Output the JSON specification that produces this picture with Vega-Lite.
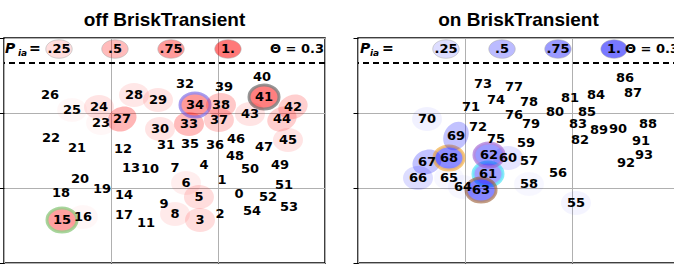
{
"$schema": "https://vega.github.io/schema/vega-lite/v6.json",
"padding": {"left": -3, "top": 9, "right": 0, "bottom": 0},
"config": {
  "view": {"stroke": "black", "strokeWidth": 1.5},
  "axis": {"grid": true, "gridColor": "#b0b0b0", "gridWidth": 1, "gridOpacity": 1, "labels": false, "domain": false, "ticks": true, "tickColor": "black", "tickSize": 5, "title": null, "minExtent": 0, "labelPadding": 0},
  "title": {"font": "Liberation Sans", "fontSize": 19, "fontWeight": "bold", "offset": 8, "color": "black"},
  "concat": {"spacing": 24}
},
"datasets": {
  "pts": [
    {"panel":"off","id":"0","x":2.196,"y":0.92},
    {"panel":"off","id":"1","x":2.037,"y":1.107},
    {"panel":"off","id":"2","x":2.019,"y":0.653},
    {"panel":"off","id":"3","x":1.832,"y":0.573,"p":0.25,"hl":"none","orient":0},
    {"panel":"off","id":"4","x":1.869,"y":1.307},
    {"panel":"off","id":"5","x":1.822,"y":0.88,"p":0.25,"hl":"none","orient":0},
    {"panel":"off","id":"6","x":1.701,"y":1.067,"p":0.12,"hl":"none","orient":0},
    {"panel":"off","id":"7","x":1.598,"y":1.267},
    {"panel":"off","id":"8","x":1.598,"y":0.653,"p":0.15,"hl":"none","orient":0},
    {"panel":"off","id":"9","x":1.495,"y":0.787},
    {"panel":"off","id":"10","x":1.364,"y":1.253},
    {"panel":"off","id":"11","x":1.327,"y":0.533},
    {"panel":"off","id":"12","x":1.112,"y":1.52},
    {"panel":"off","id":"13","x":1.187,"y":1.267},
    {"panel":"off","id":"14","x":1.121,"y":0.907},
    {"panel":"off","id":"15","x":0.542,"y":0.573,"p":0.7,"hl":"green","orient":0},
    {"panel":"off","id":"16","x":0.738,"y":0.613,"p":0.05,"hl":"none","orient":0},
    {"panel":"off","id":"17","x":1.121,"y":0.64},
    {"panel":"off","id":"18","x":0.533,"y":0.933},
    {"panel":"off","id":"19","x":0.916,"y":0.987},
    {"panel":"off","id":"20","x":0.71,"y":1.12},
    {"panel":"off","id":"21","x":0.682,"y":1.533},
    {"panel":"off","id":"22","x":0.439,"y":1.667},
    {"panel":"off","id":"23","x":0.907,"y":1.867,"p":0.06,"hl":"none","orient":0},
    {"panel":"off","id":"24","x":0.888,"y":2.08,"p":0.2,"hl":"none","orient":0},
    {"panel":"off","id":"25","x":0.636,"y":2.04,"p":0.05,"hl":"none","orient":0},
    {"panel":"off","id":"26","x":0.43,"y":2.24},
    {"panel":"off","id":"27","x":1.103,"y":1.92,"p":0.55,"hl":"none","orient":-25},
    {"panel":"off","id":"28","x":1.215,"y":2.24,"p":0.18,"hl":"none","orient":0},
    {"panel":"off","id":"29","x":1.439,"y":2.173,"p":0.2,"hl":"none","orient":0},
    {"panel":"off","id":"30","x":1.458,"y":1.787,"p":0.2,"hl":"none","orient":0},
    {"panel":"off","id":"31","x":1.514,"y":1.573},
    {"panel":"off","id":"32","x":1.692,"y":2.387},
    {"panel":"off","id":"33","x":1.729,"y":1.853,"p":0.5,"hl":"none","orient":0},
    {"panel":"off","id":"34","x":1.785,"y":2.107,"p":0.75,"hl":"purple","orient":0},
    {"panel":"off","id":"35","x":1.738,"y":1.587},
    {"panel":"off","id":"36","x":1.972,"y":1.573},
    {"panel":"off","id":"37","x":2.009,"y":1.907,"p":0.35,"hl":"none","orient":0},
    {"panel":"off","id":"38","x":2.028,"y":2.107,"p":0.4,"hl":"none","orient":0},
    {"panel":"off","id":"39","x":2.056,"y":2.347},
    {"panel":"off","id":"40","x":2.411,"y":2.48},
    {"panel":"off","id":"41","x":2.43,"y":2.213,"p":0.95,"hl":"gray","orient":0},
    {"panel":"off","id":"42","x":2.701,"y":2.08,"p":0.35,"hl":"none","orient":-20},
    {"panel":"off","id":"43","x":2.299,"y":1.987,"p":0.2,"hl":"none","orient":0},
    {"panel":"off","id":"44","x":2.598,"y":1.92,"p":0.35,"hl":"none","orient":-20},
    {"panel":"off","id":"45","x":2.654,"y":1.64,"p":0.2,"hl":"none","orient":0},
    {"panel":"off","id":"46","x":2.168,"y":1.653},
    {"panel":"off","id":"47","x":2.43,"y":1.547},
    {"panel":"off","id":"48","x":2.159,"y":1.427},
    {"panel":"off","id":"49","x":2.579,"y":1.307},
    {"panel":"off","id":"50","x":2.299,"y":1.253},
    {"panel":"off","id":"51","x":2.617,"y":1.04},
    {"panel":"off","id":"52","x":2.467,"y":0.88},
    {"panel":"off","id":"53","x":2.664,"y":0.747},
    {"panel":"off","id":"54","x":2.318,"y":0.693},
    {"panel":"on","id":"55","x":2.037,"y":0.8,"p":0.08,"hl":"none","orient":0},
    {"panel":"on","id":"56","x":1.869,"y":1.2},
    {"panel":"on","id":"57","x":1.598,"y":1.36},
    {"panel":"on","id":"58","x":1.598,"y":1.053,"p":0.05,"hl":"none","orient":0},
    {"panel":"on","id":"59","x":1.57,"y":1.6},
    {"panel":"on","id":"60","x":1.402,"y":1.4,"p":0.2,"hl":"none","orient":0},
    {"panel":"on","id":"61","x":1.215,"y":1.187,"p":0.7,"hl":"cyan","orient":0},
    {"panel":"on","id":"62","x":1.224,"y":1.44,"p":0.75,"hl":"violet","orient":0},
    {"panel":"on","id":"63","x":1.15,"y":0.973,"p":0.9,"hl":"brown","orient":0},
    {"panel":"on","id":"64","x":0.981,"y":1.013,"p":0.05,"hl":"none","orient":0},
    {"panel":"on","id":"65","x":0.85,"y":1.133,"p":0.05,"hl":"none","orient":0},
    {"panel":"on","id":"66","x":0.561,"y":1.133,"p":0.25,"hl":"none","orient":0},
    {"panel":"on","id":"67","x":0.645,"y":1.347,"p":0.45,"hl":"none","orient":-25},
    {"panel":"on","id":"68","x":0.85,"y":1.4,"p":0.85,"hl":"orange","orient":0},
    {"panel":"on","id":"69","x":0.916,"y":1.693,"p":0.45,"hl":"none","orient":-60},
    {"panel":"on","id":"70","x":0.645,"y":1.92,"p":0.1,"hl":"none","orient":0},
    {"panel":"on","id":"71","x":1.056,"y":2.08},
    {"panel":"on","id":"72","x":1.121,"y":1.813},
    {"panel":"on","id":"73","x":1.168,"y":2.387},
    {"panel":"on","id":"74","x":1.29,"y":2.173},
    {"panel":"on","id":"75","x":1.29,"y":1.653},
    {"panel":"on","id":"76","x":1.458,"y":1.973},
    {"panel":"on","id":"77","x":1.458,"y":2.347},
    {"panel":"on","id":"78","x":1.598,"y":2.147},
    {"panel":"on","id":"79","x":1.617,"y":1.853},
    {"panel":"on","id":"80","x":1.841,"y":2.013},
    {"panel":"on","id":"81","x":1.981,"y":2.2},
    {"panel":"on","id":"82","x":2.075,"y":1.64},
    {"panel":"on","id":"83","x":2.056,"y":1.853},
    {"panel":"on","id":"84","x":2.224,"y":2.24},
    {"panel":"on","id":"85","x":2.14,"y":2.013},
    {"panel":"on","id":"86","x":2.495,"y":2.467},
    {"panel":"on","id":"87","x":2.57,"y":2.267},
    {"panel":"on","id":"88","x":2.71,"y":1.853},
    {"panel":"on","id":"89","x":2.252,"y":1.773},
    {"panel":"on","id":"90","x":2.43,"y":1.787},
    {"panel":"on","id":"91","x":2.645,"y":1.627},
    {"panel":"on","id":"92","x":2.505,"y":1.333},
    {"panel":"on","id":"93","x":2.673,"y":1.44}
  ],
  "leg": [
    {"panel":"off","kind":"ell","t":".25","x":0.514,"y":2.853,"p":0.25},
    {"panel":"off","kind":"ell","t":".5","x":1.037,"y":2.853,"p":0.5},
    {"panel":"off","kind":"ell","t":".75","x":1.561,"y":2.853,"p":0.75},
    {"panel":"off","kind":"ell","t":"1.","x":2.093,"y":2.853,"p":1},
    {"panel":"off","kind":"P","t":"P","x":0.01,"y":2.853},
    {"panel":"off","kind":"ia","t":"ia","x":0.131,"y":2.8},
    {"panel":"off","kind":"eq","t":"=","x":0.234,"y":2.853},
    {"panel":"off","kind":"theta","t":"Θ = 0.3","x":2.99,"y":2.853},
    {"panel":"on","kind":"ell","t":".25","x":0.822,"y":2.853,"p":0.25},
    {"panel":"on","kind":"ell","t":".5","x":1.346,"y":2.853,"p":0.5},
    {"panel":"on","kind":"ell","t":".75","x":1.869,"y":2.853,"p":0.75},
    {"panel":"on","kind":"ell","t":"1.","x":2.393,"y":2.853,"p":1},
    {"panel":"on","kind":"P","t":"P","x":0.019,"y":2.853},
    {"panel":"on","kind":"ia","t":"ia","x":0.112,"y":2.8},
    {"panel":"on","kind":"eq","t":"=","x":0.224,"y":2.853},
    {"panel":"on","kind":"theta","t":"Θ = 0.3","x":3.0,"y":2.853}
  ]
},
"hconcat": [
  {
    "title": "off BriskTransient",
    "width": 321, "height": 225,
    "layer": [
      {"data": {"name": "pts"}, "transform": [{"filter": "datum.panel == 'off' && datum.p > 0"}],
       "mark": {"type": "point", "shape": "M-1,0A1,0.8,0,1,1,1,0A1,0.8,0,1,1,-1,0Z", "filled": true, "size": 900, "fill": "#ff0000", "strokeWidth": 3, "strokeOpacity": 0.85},
       "encoding": {
         "x": {"field": "x", "type": "quantitative", "scale": {"domain": [0, 3], "nice": false}, "axis": {"values": [0, 1, 2, 3]}},
         "y": {"field": "y", "type": "quantitative", "scale": {"domain": [0, 3], "nice": false}, "axis": {"values": [0, 1, 2, 3]}},
         "fillOpacity": {"field": "p", "type": "quantitative", "scale": {"domain": [0, 1], "range": [0, 0.75]}, "legend": null},
         "stroke": {"field": "hl", "type": "nominal", "scale": {"domain": ["none","purple","gray","green","orange","violet","cyan","brown"], "range": ["transparent","#6f5ce6","#505050","#6dbb5a","#f5a524","#9b59d0","#33e0f5","#9a5a30"]}, "legend": null},
         "angle": {"field": "orient", "type": "quantitative", "scale": null}
       }},
      {"data": {"name": "leg"}, "transform": [{"filter": "datum.panel == 'off' && datum.kind == 'ell'"}],
       "mark": {"type": "point", "shape": "M-1,0A1,0.7,0,1,1,1,0A1,0.7,0,1,1,-1,0Z", "filled": true, "size": 700, "fill": "#ff0000", "stroke": "#888888", "strokeWidth": 1, "strokeOpacity": 0.5},
       "encoding": {
         "x": {"field": "x", "type": "quantitative"},
         "y": {"field": "y", "type": "quantitative"},
         "fillOpacity": {"field": "p", "type": "quantitative", "legend": null}
       }},
      {"data": {"values": [{}]},
       "mark": {"type": "rule", "strokeDash": [6, 4], "strokeWidth": 2, "color": "black"},
       "encoding": {"y": {"datum": 2.667}}},
      {"data": {"name": "pts"}, "transform": [{"filter": "datum.panel == 'off'"}],
       "mark": {"type": "text", "font": "DejaVu Sans", "fontWeight": "bold", "fontSize": 13, "color": "black", "align": "center", "baseline": "middle"},
       "encoding": {"x": {"field": "x", "type": "quantitative"}, "y": {"field": "y", "type": "quantitative"}, "text": {"field": "id"}}},
      {"data": {"name": "leg"}, "transform": [{"filter": "datum.panel == 'off' && datum.kind == 'ell'"}],
       "mark": {"type": "text", "font": "DejaVu Sans", "fontWeight": "bold", "fontSize": 13, "color": "black", "align": "center", "baseline": "middle"},
       "encoding": {"x": {"field": "x", "type": "quantitative"}, "y": {"field": "y", "type": "quantitative"}, "text": {"field": "t"}}},
      {"data": {"name": "leg"}, "transform": [{"filter": "datum.panel == 'off' && datum.kind == 'theta'"}],
       "mark": {"type": "text", "font": "DejaVu Sans", "fontWeight": "bold", "fontSize": 13, "color": "black", "align": "right", "baseline": "middle"},
       "encoding": {"x": {"field": "x", "type": "quantitative"}, "y": {"field": "y", "type": "quantitative"}, "text": {"field": "t"}}},
      {"data": {"name": "leg"}, "transform": [{"filter": "datum.panel == 'off' && datum.kind == 'P'"}],
       "mark": {"type": "text", "font": "DejaVu Sans", "fontWeight": "bold", "fontStyle": "italic", "fontSize": 14, "color": "black", "align": "left", "baseline": "middle"},
       "encoding": {"x": {"field": "x", "type": "quantitative"}, "y": {"field": "y", "type": "quantitative"}, "text": {"field": "t"}}},
      {"data": {"name": "leg"}, "transform": [{"filter": "datum.panel == 'off' && datum.kind == 'ia'"}],
       "mark": {"type": "text", "font": "DejaVu Sans", "fontWeight": "bold", "fontStyle": "italic", "fontSize": 9, "color": "black", "align": "left", "baseline": "middle"},
       "encoding": {"x": {"field": "x", "type": "quantitative"}, "y": {"field": "y", "type": "quantitative"}, "text": {"field": "t"}}},
      {"data": {"name": "leg"}, "transform": [{"filter": "datum.panel == 'off' && datum.kind == 'eq'"}],
       "mark": {"type": "text", "font": "DejaVu Sans", "fontWeight": "bold", "fontSize": 14, "color": "black", "align": "left", "baseline": "middle"},
       "encoding": {"x": {"field": "x", "type": "quantitative"}, "y": {"field": "y", "type": "quantitative"}, "text": {"field": "t"}}}
    ]
  },
  {
    "title": "on BriskTransient",
    "width": 321, "height": 225,
    "layer": [
      {"data": {"name": "pts"}, "transform": [{"filter": "datum.panel == 'on' && datum.p > 0"}],
       "mark": {"type": "point", "shape": "M-1,0A1,0.8,0,1,1,1,0A1,0.8,0,1,1,-1,0Z", "filled": true, "size": 900, "fill": "#0000ff", "strokeWidth": 3, "strokeOpacity": 0.85},
       "encoding": {
         "x": {"field": "x", "type": "quantitative", "scale": {"domain": [0, 3], "nice": false}, "axis": {"values": [0, 1, 2, 3]}},
         "y": {"field": "y", "type": "quantitative", "scale": {"domain": [0, 3], "nice": false}, "axis": {"values": [0, 1, 2, 3]}},
         "fillOpacity": {"field": "p", "type": "quantitative", "scale": {"domain": [0, 1], "range": [0, 0.75]}, "legend": null},
         "stroke": {"field": "hl", "type": "nominal", "scale": {"domain": ["none","purple","gray","green","orange","violet","cyan","brown"], "range": ["transparent","#6f5ce6","#505050","#6dbb5a","#f5a524","#9b59d0","#33e0f5","#9a5a30"]}, "legend": null},
         "angle": {"field": "orient", "type": "quantitative", "scale": null}
       }},
      {"data": {"name": "leg"}, "transform": [{"filter": "datum.panel == 'on' && datum.kind == 'ell'"}],
       "mark": {"type": "point", "shape": "M-1,0A1,0.7,0,1,1,1,0A1,0.7,0,1,1,-1,0Z", "filled": true, "size": 700, "fill": "#0000ff", "stroke": "#888888", "strokeWidth": 1, "strokeOpacity": 0.5},
       "encoding": {
         "x": {"field": "x", "type": "quantitative"},
         "y": {"field": "y", "type": "quantitative"},
         "fillOpacity": {"field": "p", "type": "quantitative", "legend": null}
       }},
      {"data": {"values": [{}]},
       "mark": {"type": "rule", "strokeDash": [6, 4], "strokeWidth": 2, "color": "black"},
       "encoding": {"y": {"datum": 2.667}}},
      {"data": {"name": "pts"}, "transform": [{"filter": "datum.panel == 'on'"}],
       "mark": {"type": "text", "font": "DejaVu Sans", "fontWeight": "bold", "fontSize": 13, "color": "black", "align": "center", "baseline": "middle"},
       "encoding": {"x": {"field": "x", "type": "quantitative"}, "y": {"field": "y", "type": "quantitative"}, "text": {"field": "id"}}},
      {"data": {"name": "leg"}, "transform": [{"filter": "datum.panel == 'on' && datum.kind == 'ell'"}],
       "mark": {"type": "text", "font": "DejaVu Sans", "fontWeight": "bold", "fontSize": 13, "color": "black", "align": "center", "baseline": "middle"},
       "encoding": {"x": {"field": "x", "type": "quantitative"}, "y": {"field": "y", "type": "quantitative"}, "text": {"field": "t"}}},
      {"data": {"name": "leg"}, "transform": [{"filter": "datum.panel == 'on' && datum.kind == 'theta'"}],
       "mark": {"type": "text", "font": "DejaVu Sans", "fontWeight": "bold", "fontSize": 13, "color": "black", "align": "right", "baseline": "middle"},
       "encoding": {"x": {"field": "x", "type": "quantitative"}, "y": {"field": "y", "type": "quantitative"}, "text": {"field": "t"}}},
      {"data": {"name": "leg"}, "transform": [{"filter": "datum.panel == 'on' && datum.kind == 'P'"}],
       "mark": {"type": "text", "font": "DejaVu Sans", "fontWeight": "bold", "fontStyle": "italic", "fontSize": 14, "color": "black", "align": "left", "baseline": "middle"},
       "encoding": {"x": {"field": "x", "type": "quantitative"}, "y": {"field": "y", "type": "quantitative"}, "text": {"field": "t"}}},
      {"data": {"name": "leg"}, "transform": [{"filter": "datum.panel == 'on' && datum.kind == 'ia'"}],
       "mark": {"type": "text", "font": "DejaVu Sans", "fontWeight": "bold", "fontStyle": "italic", "fontSize": 9, "color": "black", "align": "left", "baseline": "middle"},
       "encoding": {"x": {"field": "x", "type": "quantitative"}, "y": {"field": "y", "type": "quantitative"}, "text": {"field": "t"}}},
      {"data": {"name": "leg"}, "transform": [{"filter": "datum.panel == 'on' && datum.kind == 'eq'"}],
       "mark": {"type": "text", "font": "DejaVu Sans", "fontWeight": "bold", "fontSize": 14, "color": "black", "align": "left", "baseline": "middle"},
       "encoding": {"x": {"field": "x", "type": "quantitative"}, "y": {"field": "y", "type": "quantitative"}, "text": {"field": "t"}}}
    ]
  }
]
}
